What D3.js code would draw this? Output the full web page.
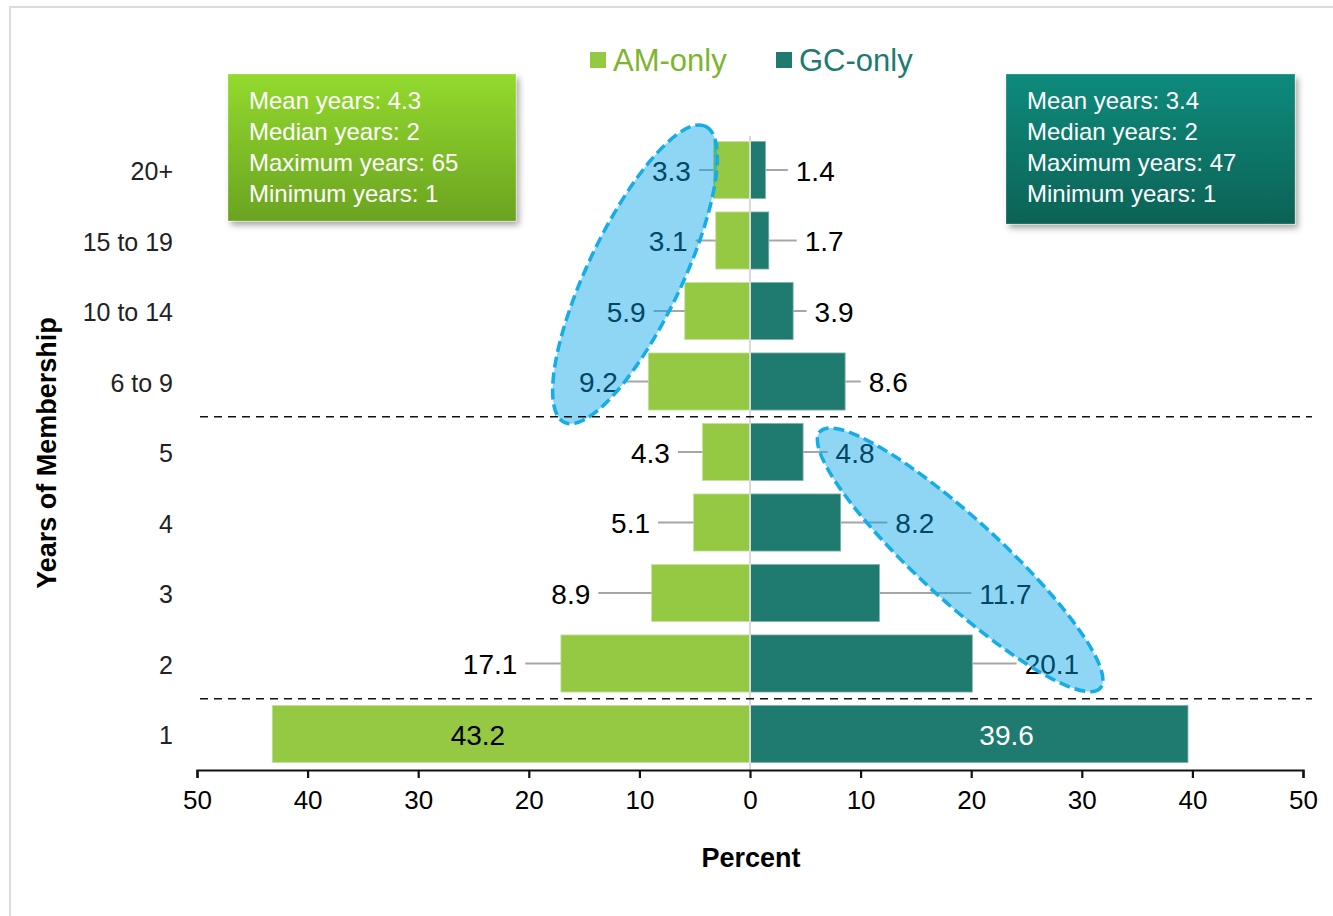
<!DOCTYPE html>
<html>
<head>
<meta charset="utf-8">
<script src="https://cdn.jsdelivr.net/npm/d3@7/dist/d3.min.js"></script>
<style>
  html, body { margin: 0; padding: 0; background: #fff; }
  svg { display: block; font-family: "Liberation Sans", Arial, sans-serif; }
</style>
</head>
<body>
<svg id="chart" width="1333" height="916"></svg>
<script>
// Years of membership, share of members (percent) by group
const categories = ["20+", "15 to 19", "10 to 14", "6 to 9", "5", "4", "3", "2", "1"];
const amOnly = [3.3, 3.1, 5.9, 9.2, 4.3, 5.1, 8.9, 17.1, 43.2];
const gcOnly = [1.4, 1.7, 3.9, 8.6, 4.8, 8.2, 11.7, 20.1, 39.6];
const xTickValues = [-50, -40, -30, -20, -10, 0, 10, 20, 30, 40, 50];
const seriesNames = ["AM-only", "GC-only"];
const amStats = ["Mean years: 4.3", "Median years: 2", "Maximum years: 65", "Minimum years: 1"];
const gcStats = ["Mean years: 3.4", "Median years: 2", "Maximum years: 47", "Minimum years: 1"];

// Where each value label sits, in percent units away from zero
const amLabelAt = [7.1, 7.4, 11.2, 13.7, 9.0, 10.8, 16.2, 23.5, 24.6];
const gcLabelAt = [5.9, 6.7, 7.6, 12.5, 9.5, 14.9, 23.1, 27.3, 23.2];

const AM_COLOR = "#95c843";
const GC_COLOR = "#1f7b70";

const svg = d3.select("#chart");

// outer frame
svg.append("rect")
  .attr("x", 10).attr("y", 7).attr("width", 1340).attr("height", 930)
  .attr("fill", "none").attr("stroke", "#dcdcdc").attr("stroke-width", 2);

const defs = svg.append("defs");
const shadow = defs.append("filter").attr("id", "shadow")
  .attr("x", "-10%").attr("y", "-10%").attr("width", "125%").attr("height", "130%");
shadow.append("feDropShadow").attr("dx", 3).attr("dy", 4)
  .attr("stdDeviation", 3).attr("flood-color", "#000").attr("flood-opacity", 0.35);

function gradient(id, top, bottom) {
  const g = defs.append("linearGradient").attr("id", id)
    .attr("x1", 0).attr("y1", 0).attr("x2", 0).attr("y2", 1);
  g.append("stop").attr("offset", "0%").attr("stop-color", top);
  g.append("stop").attr("offset", "100%").attr("stop-color", bottom);
}
gradient("amGrad", "#93da2e", "#6ba321");
gradient("gcGrad", "#108b7c", "#0a6256");

// scales
const x = d3.scaleLinear().domain([-50, 50]).range([197, 1303]);
const y = d3.scaleBand().domain(categories)
  .range([134.75, 769.25]).paddingInner(0.19).paddingOuter(0.095);
const bw = y.bandwidth();
const mid = c => y(c) + bw / 2;

// bars
svg.append("g").selectAll("rect").data(categories).join("rect")
  .attr("x", (c, i) => x(-amOnly[i]))
  .attr("y", c => y(c))
  .attr("width", (c, i) => x(0) - x(-amOnly[i]))
  .attr("height", bw)
  .attr("fill", AM_COLOR)
  .attr("stroke", "#c8e3a0").attr("stroke-width", 0.8);

svg.append("g").selectAll("rect").data(categories).join("rect")
  .attr("x", x(0))
  .attr("y", c => y(c))
  .attr("width", (c, i) => x(gcOnly[i]) - x(0))
  .attr("height", bw)
  .attr("fill", GC_COLOR)
  .attr("stroke", "#7fb3ac").attr("stroke-width", 0.8);

// zero line
svg.append("line")
  .attr("x1", x(0)).attr("x2", x(0)).attr("y1", 136).attr("y2", 770)
  .attr("stroke", "#d9d9d9").attr("stroke-width", 2);

// value labels with leader lines
const labelLayer = svg.append("g");
function addLabels(values, labelAt, side, insideColor) {
  values.forEach((v, i) => {
    const c = categories[i];
    const cx = x(side * labelAt[i]);
    const inside = labelAt[i] < v;
    const t = labelLayer.append("text")
      .attr("x", cx).attr("y", mid(c) + 1)
      .attr("text-anchor", "middle").attr("dominant-baseline", "central")
      .attr("font-size", 28)
      .attr("fill", inside ? insideColor : "#000")
      .text(v.toFixed(1));
    if (!inside) {
      const w = t.node().getComputedTextLength();
      const barEnd = x(side * v);
      const lineEnd = cx - side * (w / 2 + 8);
      labelLayer.insert("line", "text")
        .attr("x1", barEnd).attr("x2", lineEnd)
        .attr("y1", mid(c)).attr("y2", mid(c))
        .attr("stroke", "#a6a6a6").attr("stroke-width", 2);
    }
  });
}
addLabels(amOnly, amLabelAt, -1, "#000");
addLabels(gcOnly, gcLabelAt, 1, "#fff");

// highlight ellipses (centre in percent / category index, radii in px)
const highlights = [
  { at: -10.4, row: 1.48, rx: 164, ry: 47, angle: -64.5 },
  { at: 19.0, row: 5.53, rx: 190, ry: 41, angle: 42.5 }
];
const rowY = r => mid(categories[0]) + r * y.step();
svg.append("g").selectAll("ellipse").data(highlights).join("ellipse")
  .attr("cx", 0).attr("cy", 0)
  .attr("rx", d => d.rx).attr("ry", d => d.ry)
  .attr("transform", d => `translate(${x(d.at)},${rowY(d.row)}) rotate(${d.angle})`)
  .attr("fill", "rgb(0,160,230)").attr("fill-opacity", 0.44)
  .attr("stroke", "#14ade6").attr("stroke-width", 3.5)
  .attr("stroke-dasharray", "11,5");

// group separators
[3, 7].forEach(i => {
  const yy = y(categories[i]) + bw + (y.step() - bw) / 2;
  svg.append("line")
    .attr("x1", 200).attr("x2", 1312).attr("y1", yy).attr("y2", yy)
    .attr("stroke", "#111").attr("stroke-width", 1.7)
    .attr("stroke-dasharray", "8,6");
});

// x axis
const xAxis = svg.append("g").attr("transform", "translate(0,770)")
  .call(d3.axisBottom(x).tickValues(xTickValues).tickSize(8).tickPadding(13)
    .tickFormat(d => Math.abs(d)));
xAxis.select(".domain").attr("stroke", "#111").attr("stroke-width", 2.2);
xAxis.selectAll(".tick line").attr("stroke", "#111").attr("stroke-width", 2.2);
xAxis.selectAll(".tick text").attr("font-size", 26).attr("fill", "#000")
  .attr("font-family", "Liberation Sans, Arial, sans-serif");

svg.append("text")
  .attr("x", 751).attr("y", 867).attr("text-anchor", "middle")
  .attr("font-size", 27).attr("font-weight", "bold").attr("fill", "#000")
  .text("Percent");

// category labels
svg.append("g").selectAll("text").data(categories).join("text")
  .attr("x", 173).attr("y", c => mid(c) + 1)
  .attr("text-anchor", "end").attr("dominant-baseline", "central")
  .attr("font-size", 25).attr("fill", "#222")
  .text(c => c);

svg.append("text")
  .attr("transform", "translate(47,453) rotate(-90)")
  .attr("text-anchor", "middle").attr("dominant-baseline", "central")
  .attr("font-size", 27).attr("font-weight", "bold").attr("fill", "#000")
  .text("Years of Membership");

// legend
const legend = [
  { name: seriesNames[0], color: AM_COLOR, text: "#7db52f", x: 590 },
  { name: seriesNames[1], color: GC_COLOR, text: "#1e7b70", x: 776 }
];
legend.forEach(l => {
  svg.append("rect").attr("x", l.x).attr("y", 52).attr("width", 16).attr("height", 16)
    .attr("fill", l.color);
  svg.append("text").attr("x", l.x + 23).attr("y", 71)
    .attr("font-size", 31).attr("fill", l.text).text(l.name);
});

// summary boxes
function statBox(bx, by, w, h, fill, lines) {
  const g = svg.append("g");
  g.append("rect").attr("x", bx).attr("y", by).attr("width", w).attr("height", h)
    .attr("fill", fill).attr("filter", "url(#shadow)")
    .attr("stroke", "rgba(255,255,255,0.25)").attr("stroke-width", 1);
  g.selectAll("text").data(lines).join("text")
    .attr("x", bx + 21).attr("y", (d, i) => by + 26 + i * 31)
    .attr("dominant-baseline", "central")
    .attr("font-size", 24).attr("fill", "#fff")
    .text(d => d);
}
statBox(228, 74, 288, 147, "url(#amGrad)", amStats);
statBox(1006, 74, 289, 150, "url(#gcGrad)", gcStats);
</script>
</body>
</html>
